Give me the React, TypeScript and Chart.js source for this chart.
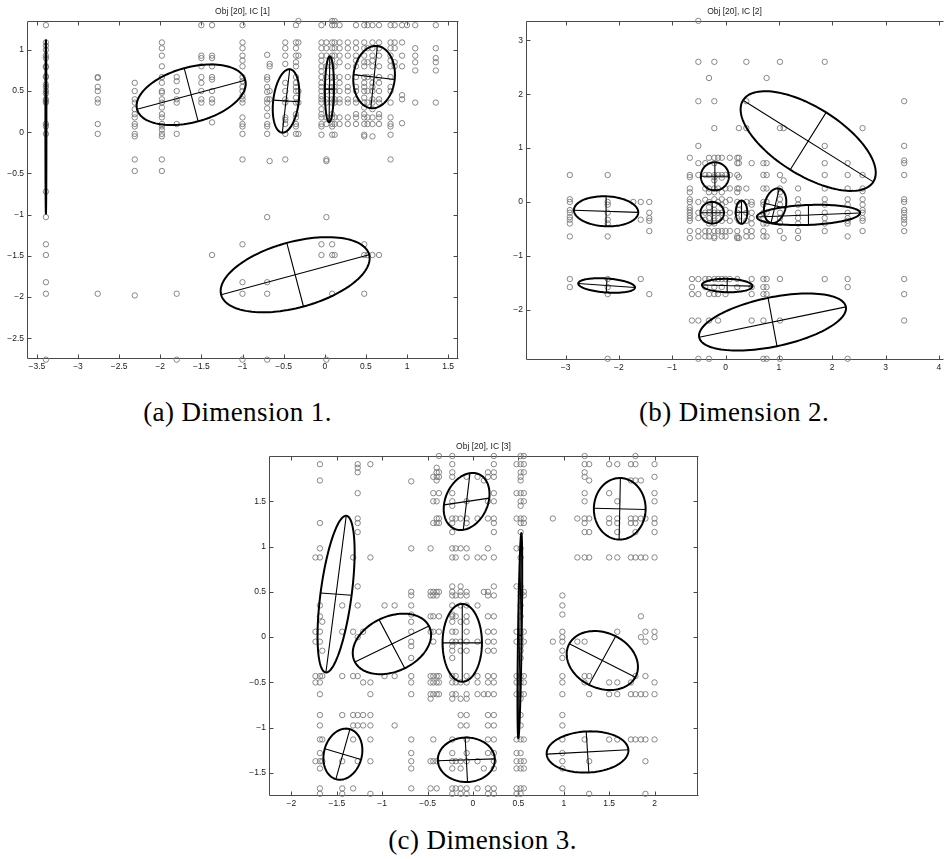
import React, { useEffect, useRef } from "react";
import { Chart, registerables } from "chart.js";

Chart.register(...registerables);

type Column = [number, number[]];
type Ellipse = [number, number, number, number, number, number]; // cx, cy, major(ux,uy), minor(vx,vy)

// ---------------- Dimension 1 ----------------
const dim1Columns: Column[] = [
  [-3.39, [1.3, 1.09, 1.05, 1.0, 0.93, 0.9, 0.8, 0.79, 0.68, 0.67, 0.58, 0.55, 0.5, 0.47, 0.4, 0.38, 0.36, 0.1, 0.07, -0.02, -0.72, -1.03, -1.36, -1.49, -1.82, -1.96, -2.76]],
  [-2.76, [0.67, 0.66, 0.55, 0.5, 0.4, 0.36, 0.1, -0.02, -1.96]],
  [-2.31, [0.6, 0.5, 0.4, 0.36, 0.28, 0.22, 0.18, 0.1, 0.07, -0.02, -0.05, -0.33, -0.47, -1.98]],
  [-1.98, [1.09, 1.02, 0.93, 0.8, 0.67, 0.6, 0.5, 0.48, 0.4, 0.36, 0.3, 0.22, 0.18, 0.1, 0.07, 0.03, -0.02, -0.05, -0.33, -0.47]],
  [-1.8, [0.67, 0.62, 0.5, 0.4, 0.36, 0.1, -0.02, -1.96, -2.76]],
  [-1.5, [1.3, 0.93, 0.9, 0.8, 0.67, 0.6, 0.5, 0.4, 0.36]],
  [-1.37, [1.3, 0.93, 0.9, 0.8, 0.67, 0.64, 0.5, 0.4, 0.36, 0.12, -1.49]],
  [-1.0, [1.3, 1.09, 1.02, 0.93, 0.87, 0.8, 0.67, 0.62, 0.55, 0.5, 0.44, 0.4, 0.36, 0.18, 0.1, 0.07, -0.02, -0.33, -1.36, -1.82, -1.96, -2.76]],
  [-0.7, [0.94, 0.67, 0.64, 0.55, 0.49, 0.4, 0.36, 0.29, 0.2, 0.1, 0.07, -0.02, -1.03, -1.82, -1.96, -2.76]],
  [-0.67, [0.83, 0.8, 0.5, 0.4, -0.35]],
  [-0.48, [1.09, 1.02, 0.93, 0.83, 0.6, 0.5, 0.4, 0.36, 0.18, 0.15, 0.1, -0.02, -0.33]],
  [-0.35, [1.3, 1.09, 1.02, 0.93, 0.85, 0.8, 0.67, 0.6, 0.55, 0.5, 0.42, 0.36, 0.22, 0.18, 0.1, 0.07, -0.02]],
  [-0.32, [1.35, 1.09, 0.93, 0.5, 0.36, -0.02]],
  [-0.04, [1.3, 1.09, 1.02, 0.93, 0.87, 0.8, 0.74, 0.67, 0.6, 0.55, 0.5, 0.44, 0.4, 0.36, 0.28, 0.22, 0.18, 0.1, 0.07, -0.03, -1.36, -1.49]],
  [0.02, [1.09, 1.02, 0.93, 0.8, 0.67, 0.55, 0.5, 0.4, 0.36, 0.18, 0.1, -0.33, -0.35, -1.03, -2.76]],
  [0.09, [1.35, 1.3, 1.09, 1.02, 0.93, 0.87, 0.8, 0.67, 0.6, 0.55, 0.5, 0.4, 0.36, 0.22, 0.18, 0.1, 0.07, -0.03, -1.36, -1.49, -1.96]],
  [0.12, [1.35, 1.3, 1.09, 1.02, 0.93, 0.8, 0.67, 0.55, 0.5, 0.4, 0.36, 0.18, 0.1, -0.03, -1.49]],
  [0.18, [1.3, 1.09, 1.02, 0.93, 0.85, 0.67, 0.6, 0.5, 0.4, 0.36, 0.18, 0.1]],
  [0.28, [1.09, 1.02, 0.93, 0.8, 0.67, 0.55, 0.5, 0.4, 0.36, 0.18, 0.1]],
  [0.38, [1.3, 1.09, 1.02, 0.93, 0.87, 0.8, 0.67, 0.55, 0.5, 0.4, 0.36, 0.22, 0.18, 0.1]],
  [0.48, [1.3, 1.09, 1.02, 0.93, 0.85, 0.8, 0.67, 0.6, 0.55, 0.5, 0.42, 0.36, 0.3, 0.22, 0.18, 0.1, -0.03, -0.05, -1.36, -1.49, -1.96]],
  [0.52, [1.3, 1.02, 0.85, 0.67, 0.5, 0.36, 0.18, 0.1, -1.49]],
  [0.58, [1.3, 1.09, 1.02, 0.93, 0.87, 0.8, 0.67, 0.6, 0.55, 0.5, 0.4, 0.36, 0.28, 0.18, 0.1, -0.05, -1.49]],
  [0.66, [1.3, 1.09, 1.02, 0.93, 0.8, 0.67, 0.6, 0.5, 0.4, 0.36, 0.22, 0.18, 0.1, -1.49]],
  [0.8, [1.3, 1.09, 1.02, 0.93, 0.87, 0.8, 0.67, 0.55, 0.5, 0.36, 0.18, 0.1, 0.07, -0.03, -0.33]],
  [0.85, [1.3, 1.09, 1.02, 0.85, 0.8]],
  [0.94, [1.3, 1.09, 0.93, 0.8, 0.45, 0.4, 0.11]],
  [1.0, [1.3]],
  [1.1, [1.3, 1.02, 0.93, 0.85, 0.75, 0.36]],
  [1.35, [1.3, 1.02, 0.9, 0.85, 0.75, 0.36]],
];
const dim1Ellipses: Ellipse[] = [
  [-3.39, 0.065, 0, 1.053, 0.006, 0],
  [-1.624, 0.455, 0.658, 0.1765, -0.085, 0.3225],
  [-0.471, 0.38, 0.045, 0.385, 0.155, -0.01],
  [0.057, 0.523, 0.004, 0.4, 0.055, 0],
  [0.6, 0.67, 0.04, 0.377, 0.25, -0.03],
  [-0.36, -1.729, 0.9, 0.243, 0.1015, -0.386],
];
const dim1XTicks = [-3.5, -3, -2.5, -2, -1.5, -1, -0.5, 0, 0.5, 1, 1.5];
const dim1YTicks = [-2.5, -2, -1.5, -1, -0.5, 0, 0.5, 1];

// ---------------- Dimension 2 ----------------
const dim2Columns: Column[] = [
  [-2.92, [0.5, 0.05, 0.0, -0.15, -0.2, -0.28, -0.33, -0.4, -0.64, -1.43, -1.58]],
  [-2.21, [0.5, 0.0, -0.05, -0.2, -0.33, -0.4, -0.64, -1.43, -1.58, -1.71, -2.91]],
  [-1.73, [0.0]],
  [-1.59, [0.0, -0.33, -1.43]],
  [-1.43, [0.0, -0.2, -0.3, -0.35, -0.54, -1.71]],
  [-0.67, [0.82, 0.5, 0.46, 0.25, 0.18, 0.05, 0.0, -0.1, -0.15, -0.2, -0.25, -0.3, -0.35, -0.54, -0.67]],
  [-0.63, [-1.43, -1.58, -1.71, -2.2]],
  [-0.51, [3.36, 2.6, 1.87, 1.04, 0.72, 0.5, 0.0, -0.2, -0.3, -0.54, -0.64, -1.43, -1.71, -2.2, -2.91]],
  [-0.38, [0.72, 0.5, 0.25, 0.04, -0.2, -0.33, -0.54, -0.64, -1.43, -1.58]],
  [-0.31, [2.3, 0.82, 0.5, 0.25, 0.18, 0.0, -0.1, -0.2, -0.3, -0.4, -0.54, -0.64, -1.43, -1.71, -2.2, -2.91]],
  [-0.21, [2.6, 1.87, 1.37, 0.82, 0.72, 0.5, 0.46, 0.4, 0.25, 0.18, 0.05, -0.05, -0.15, -0.2, -0.3, -0.35, -0.4, -0.54, -0.64, -0.67, -1.43, -1.58, -1.71]],
  [-0.14, [0.82, 0.5, 0.25, 0.0, -0.2, -0.3, -0.54, -1.43, -1.71, -2.2]],
  [-0.07, [0.82, 0.5, 0.45, 0.18, 0.05, -0.05, -0.2, -0.35, -0.54, -0.64, -1.43, -1.58]],
  [0.0, [0.5, 0.25, 0.0, -0.15, -0.3, -0.54, -0.64, -1.43, -1.71]],
  [0.08, [0.82, 0.5, 0.25, 0.04, -0.2, -0.35, -0.54, -1.43]],
  [0.22, [0.82, 0.72, 0.5, 0.25, 0.18, 0.0, -0.2, -0.3, -0.54, -0.64, -0.67, -1.43, -1.58]],
  [0.25, [1.37, 0.82, 0.72, 0.46, 0.25, -0.05, -0.15, -0.35, -0.67]],
  [0.39, [2.6, 1.87, 1.37, 0.25, 0.0, -0.2, -0.35, -0.54, -0.64]],
  [0.49, [0.72, 0.0, -0.05, -0.2, -0.3, -0.4, -0.54, -0.64, -1.43, -1.58, -1.71, -2.2]],
  [0.71, [0.72, 0.5, 0.25, 0.0, -0.05, -0.2, -0.3, -0.4, -0.54, -0.64, -1.43, -1.58, -1.71, -2.2, -2.91]],
  [0.77, [2.3, 0.72, 0.5, 0.25, 0.0, -0.2, -0.4, -0.64, -1.43, -1.58, -1.71, -2.91]],
  [1.02, [2.6, 1.37, 0.5, 0.25, 0.18, 0.05, -0.05, -0.2, -0.3, -0.39, -0.54, -1.43, -2.2, -2.91]],
  [1.09, [1.37, 0.4, -0.67]],
  [1.36, [0.25, 0.05, -0.05, -0.2, -0.3, -0.4, -0.54, -0.67]],
  [1.86, [2.6, 1.04, 0.72, 0.5, 0.25, 0.05, -0.05, -0.2, -0.3, -0.4, -0.54, -1.43]],
  [2.29, [0.72, 0.5, 0.25, 0.05, -0.05, -0.2, -0.3, -0.35, -0.4, -0.64, -1.43, -1.58, -2.91]],
  [2.57, [1.37, 0.5, 0.25, 0.2, 0.05, -0.05, -0.15, -0.2, -0.3, -0.35, -0.54]],
  [3.35, [1.87, 1.04, 0.77, 0.72, 0.5, 0.05, 0.0, -0.15, -0.2, -0.28, -0.33, -0.4, -0.54, -1.43, -1.71, -2.2]],
];
const dim2Ellipses: Ellipse[] = [
  [-2.24, -0.173, 0.603, -0.02, 0, 0.278],
  [-2.23, -1.55, 0.532, -0.037, 0.006, 0.13],
  [-0.2, 0.476, 0.263, 0, 0, 0.26],
  [-0.25, -0.2, 0.22, 0, 0, 0.2],
  [0.3, -0.19, 0.108, 0, 0, 0.216],
  [0.93, -0.07, 0.077, 0.318, 0.195, -0.047],
  [1.555, -0.241, 0.968, 0.037, 0, 0.185],
  [1.55, 1.13, 1.2215, -0.757, 0.337, 0.5315],
  [0.881, -2.228, 1.376, 0.281, 0.0835, -0.4485],
  [0.031, -1.551, 0.473, -0.01, 0, 0.124],
];
const dim2XTicks = [-3, -2, -1, 0, 1, 2, 3, 4];
const dim2YTicks = [-2, -1, 0, 1, 2, 3];

// ---------------- Dimension 3 ----------------
const dim3Columns: Column[] = [
  [-1.735, [0.88, 0.06, -0.05, -0.43, -0.5, -1.37]],
  [-1.686, [1.91, 1.73, 1.26, 0.98, 0.88, 0.35, 0.23, 0.06, -0.05, -0.43, -0.5, -0.63, -0.86, -0.975, -1.13, -1.28, -1.37, -1.45, -1.67, -1.73]],
  [-1.66, [0.17, -0.15, -0.43, -1.13, -1.37]],
  [-1.44, [0.35, 0.06, -0.43, -0.86, -1.37, -1.67, -1.73]],
  [-1.32, [0.88, 0.06, -0.43, -0.86, -0.975, -1.13, -1.67]],
  [-1.27, [1.91, 1.87, 1.82, 1.59, 1.31, 1.26, 1.16, 0.56, 0.35, 0.0, -0.43, -0.86, -0.975, -1.37]],
  [-1.21, [0.06, -0.5, -0.86, -0.975]],
  [-1.13, [1.91, 0.88, -0.5, -0.63, -0.86, -0.975, -1.13, -1.37, -1.73]],
  [-0.974, [0.35, -0.43]],
  [-0.863, [0.35, -0.43, -0.975]],
  [-0.68, [1.72, 0.98, 0.5, 0.46, 0.35, 0.25, 0.17, 0.06, -0.05, -0.1, -0.23, -0.43, -0.5, -0.63, -1.13, -1.28, -1.37, -1.45, -1.67]],
  [-0.467, [0.98, 0.5, 0.46, 0.23, 0.06, -0.43, -0.5, -0.63, -0.68, -1.37, -1.67]],
  [-0.437, [1.77, 1.59, 1.5, 1.26, 0.5, 0.46, 0.23, 0.06, -0.05, -0.43, -0.5, -0.63, -1.13, -1.37]],
  [-0.4, [1.87, 1.82, 1.77, 1.73, 1.5, 1.31, 1.26, 0.5, 0.46, -0.43, -0.5, -0.63, -1.37, -1.67]],
  [-0.375, [2.0, 1.82, 1.77, 1.59, 1.31, 1.26, 0.5, 0.23, 0.06, -0.43, -0.5, -0.63]],
  [-0.228, [2.0, 1.91, 1.82, 1.77, 1.59, 1.5, 1.45, 1.31, 1.26, 1.16, 0.98, 0.88, 0.56, 0.5, 0.46, 0.35, 0.25, 0.23, 0.17, 0.06, -0.05, -0.1, -0.15, -0.23, -0.43, -0.5, -0.63, -0.68, -1.13, -1.28, -1.37, -1.45, -1.67, -1.73]],
  [-0.19, [1.31, 0.98, 0.88, 0.46, 0.23, 0.06, -0.05, -0.43, -0.5, -0.63, -1.37, -1.67]],
  [-0.136, [1.31, 0.98, 0.56, 0.5, 0.46, 0.35, 0.17, -0.05, -0.15, -0.5, -0.68, -0.86, -0.975, -1.37, -1.45, -1.67, -1.73]],
  [-0.07, [1.77, 1.5, 1.31, 1.26, 0.98, 0.88, 0.5, 0.46, 0.35, 0.23, 0.17, 0.06, -0.05, -0.15, -0.43, -0.5, -0.63, -0.68, -0.86, -0.975, -1.13, -1.28, -1.37, -1.67, -1.73]],
  [0.05, [1.77, 1.31, 0.88, 0.35, -0.05, -0.43, -0.5, -0.63, -1.37, -1.67]],
  [0.12, [1.73, 0.88, 0.5, -0.63, -1.45]],
  [0.165, [1.82, 1.77, 1.5, 1.31, 0.98, 0.5, 0.46, 0.23, 0.06, -0.05, -0.15, -0.43, -0.5, -0.63, -0.86, -0.975, -1.13, -1.28, -1.67, -1.73]],
  [0.23, [2.0, 1.91, 1.82, 1.77, 1.59, 1.5, 1.31, 1.26, 1.16, 0.88, 0.56, 0.46, 0.23, 0.06, -0.05, -0.15, -0.43, -0.5, -0.63, -0.86, -0.975, -1.13, -1.28, -1.37, -1.45, -1.67, -1.73]],
  [0.48, [1.91, 1.59, 1.31, 0.98, 0.56, 0.06, -0.05, -0.43, -0.5, -0.63, -1.13, -1.28, -1.37, -1.45, -1.67, -1.73]],
  [0.525, [2.0, 1.91, 1.82, 1.77, 1.73, 1.59, 1.5, 1.45, 1.31, 1.26, 1.16, 0.98, 0.88, 0.56, 0.5, 0.46, 0.35, 0.23, 0.06, 0.0, -0.05, -0.1, -0.15, -0.23, -0.43, -0.5, -0.63, -0.68, -0.86, -0.975, -1.13, -1.28, -1.37, -1.45, -1.67, -1.73]],
  [0.56, [2.0, 1.91, 1.82, 1.59, 1.5, 1.31, 1.26, 0.5, 0.46, 0.06, -0.05, -0.43, -0.5, -0.63, -1.13, -1.37, -1.45, -1.67]],
  [0.88, [1.31, -0.05]],
  [0.985, [0.46, 0.35, 0.25, 0.06, 0.0, -0.05, -0.15, -0.23, -0.43, -0.5, -0.63, -0.86, -0.975, -1.13, -1.28, -1.37, -1.45, -1.67]],
  [1.15, [1.31, 0.88, -0.05]],
  [1.23, [2.0, 1.91, 1.82, 1.77, 1.59, 1.5, 1.31, 1.26, 1.16, 0.88, -0.05, -0.43, -0.5, -1.13]],
  [1.28, [1.91, 1.73, 1.31, 1.16, 0.88, -0.43, -0.63, -1.37, -1.73]],
  [1.5, [1.91, 1.59, 1.31, 1.26, 0.88, -0.5, -0.63, -1.13]],
  [1.59, [1.91, 1.5, 1.31, 1.26, 1.16, 0.88, 0.06, -0.5, -0.63, -1.13]],
  [1.74, [1.91, 1.73, 1.31, 1.26, 0.88, -0.5, -0.63, -1.13]],
  [1.79, [2.0, 1.91, 1.73, 1.31, 1.26, 1.16, 0.88, -0.43, -0.63, -1.13]],
  [1.85, [1.73, 1.31, 0.88, 0.23, 0.0, -0.63, -1.13]],
  [1.9, [1.31, 0.88, 0.06, -0.05, -0.43, -0.63, -1.13, -1.37, -1.73]],
  [2.0, [1.91, 1.77, 1.59, 1.5, 1.31, 1.26, 1.16, 0.88, 0.06, 0.0, -0.5, -0.63, -1.13]],
];
const dim3Ellipses: Ellipse[] = [
  [-1.508, 0.475, 0.112, 0.865, 0.171, -0.013],
  [-0.893, -0.075, 0.4075, 0.199, 0.1415, -0.2685],
  [-0.07, 1.498, 0.037, 0.313, 0.2495, 0.037],
  [1.617, 1.417, 0.285, -0.007, 0.007, 0.34],
  [-0.118, -0.063, 0, 0.43, 0.217, 0],
  [0.5165, 0.017, 0.0165, 1.132, 0.02, 0],
  [1.425, -0.258, 0.364, -0.184, 0.147, 0.2685],
  [-1.433, -1.292, 0.0775, 0.276, 0.2, -0.059],
  [-0.073, -1.354, 0.314, 0.01, 0.013, -0.245],
  [1.262, -1.268, 0.45, 0.024, 0.0145, -0.2265],
];
const dim3XTicks = [-2, -1.5, -1, -0.5, 0, 0.5, 1, 1.5, 2];
const dim3YTicks = [-1.5, -1, -0.5, 0, 0.5, 1, 1.5];

const SANS = "'Liberation Sans', Arial, sans-serif";

function flatten(cols: Column[]) {
  const out: { x: number; y: number }[] = [];
  for (const [x, ys] of cols) for (const y of ys) out.push({ x, y });
  return out;
}

function fmt(v: number) {
  const s = String(Math.abs(v));
  return v < 0 ? "\u2212" + s : s;
}

function makeFramePlugin(xt: number[], yt: number[], drawRight: boolean) {
  return {
    id: "frame",
    beforeDatasetsDraw(chart: any) {
      const { ctx, chartArea: a, scales } = chart;
      const L = Math.round(a.left) + 0.5;
      const R = Math.round(a.right) - 0.5;
      const T = Math.round(a.top) + 0.5;
      const B = Math.round(a.bottom) + 0.5;
      ctx.save();
      ctx.strokeStyle = "#4a4a4a";
      ctx.lineWidth = 1;
      ctx.beginPath();
      ctx.moveTo(R + 1, T);
      ctx.lineTo(L, T);
      ctx.lineTo(L, B);
      ctx.lineTo(R + 1, B);
      if (drawRight) {
        ctx.moveTo(R, T);
        ctx.lineTo(R, B);
      }
      const tl = 4;
      for (const v of xt) {
        const px = Math.round(scales.x.getPixelForValue(v)) + 0.5;
        ctx.moveTo(px, B);
        ctx.lineTo(px, B - tl);
        ctx.moveTo(px, T);
        ctx.lineTo(px, T + tl);
      }
      for (const v of yt) {
        const py = Math.round(scales.y.getPixelForValue(v)) + 0.5;
        ctx.moveTo(L, py);
        ctx.lineTo(L + tl, py);
        if (drawRight) {
          ctx.moveTo(R, py);
          ctx.lineTo(R - tl, py);
        }
      }
      ctx.stroke();
      ctx.restore();
    },
  };
}

function makeEllipsePlugin(ells: Ellipse[]) {
  return {
    id: "ellipses",
    afterDatasetsDraw(chart: any) {
      const { ctx, scales } = chart;
      const sx = (v: number) => scales.x.getPixelForValue(v);
      const sy = (v: number) => scales.y.getPixelForValue(v);
      ctx.save();
      ctx.strokeStyle = "#000";
      ctx.lineJoin = "round";
      for (const [cx, cy, ux, uy, vx, vy] of ells) {
        ctx.beginPath();
        const n = 120;
        for (let i = 0; i <= n; i++) {
          const t = (i / n) * Math.PI * 2;
          const c = Math.cos(t);
          const s = Math.sin(t);
          const px = sx(cx + ux * c + vx * s);
          const py = sy(cy + uy * c + vy * s);
          if (i === 0) ctx.moveTo(px, py);
          else ctx.lineTo(px, py);
        }
        ctx.closePath();
        ctx.lineWidth = 2;
        ctx.stroke();
        ctx.beginPath();
        ctx.moveTo(sx(cx - ux), sy(cy - uy));
        ctx.lineTo(sx(cx + ux), sy(cy + uy));
        ctx.moveTo(sx(cx - vx), sy(cy - vy));
        ctx.lineTo(sx(cx + vx), sy(cy + vy));
        ctx.lineWidth = 1.1;
        ctx.stroke();
      }
      ctx.restore();
    },
  };
}

type PanelProps = {
  left: number;
  top: number;
  width: number;
  height: number;
  title: string;
  columns: Column[];
  ellipses: Ellipse[];
  xMin: number;
  xMax: number;
  yMin: number;
  yMax: number;
  xTicks: number[];
  yTicks: number[];
  yAxisWidth: number;
  xAxisHeight: number;
  padRight: number;
  drawRight: boolean;
};

function Panel(p: PanelProps) {
  const ref = useRef<HTMLCanvasElement | null>(null);
  useEffect(() => {
    if (!ref.current) return;
    const tickFont = { family: SANS, size: 8.5 };
    const chart = new Chart(ref.current, {
      type: "scatter",
      data: {
        datasets: [
          {
            data: flatten(p.columns),
            pointStyle: "circle",
            pointRadius: 2.7,
            pointBorderWidth: 0.9,
            borderColor: "#7a7a7a",
            backgroundColor: "rgba(0,0,0,0)",
            clip: false as any,
          },
        ],
      },
      options: {
        responsive: false,
        animation: false,
        events: [],
        layout: { padding: { left: 0, right: p.padRight, top: 0, bottom: 0 } },
        plugins: {
          legend: { display: false },
          tooltip: { enabled: false },
          title: {
            display: true,
            text: p.title,
            fullSize: false,
            color: "#222",
            font: { family: SANS, size: 8.5, weight: "normal" },
            padding: { top: 7, bottom: 4 },
          },
        },
        scales: {
          x: {
            type: "linear",
            min: p.xMin,
            max: p.xMax,
            grid: { display: false, drawTicks: false },
            border: { display: false },
            ticks: {
              font: tickFont,
              color: "#1a1a1a",
              padding: 4,
              maxRotation: 0,
              autoSkip: false,
              callback: (v: any) => fmt(Number(v)),
            },
            afterBuildTicks: (s: any) => {
              s.ticks = p.xTicks.map((v) => ({ value: v }));
            },
            afterFit: (s: any) => {
              s.height = p.xAxisHeight;
            },
          },
          y: {
            type: "linear",
            min: p.yMin,
            max: p.yMax,
            grid: { display: false, drawTicks: false },
            border: { display: false },
            ticks: {
              font: tickFont,
              color: "#1a1a1a",
              padding: 3,
              autoSkip: false,
              callback: (v: any) => fmt(Number(v)),
            },
            afterBuildTicks: (s: any) => {
              s.ticks = p.yTicks.map((v) => ({ value: v }));
            },
            afterFit: (s: any) => {
              s.width = p.yAxisWidth;
            },
          },
        },
      } as any,
      plugins: [makeFramePlugin(p.xTicks, p.yTicks, p.drawRight), makeEllipsePlugin(p.ellipses)],
    });
    return () => chart.destroy();
  }, []);
  return (
    <div style={{ position: "absolute", left: p.left, top: p.top, width: p.width, height: p.height }}>
      <canvas ref={ref} width={p.width} height={p.height} style={{ display: "block" }} />
    </div>
  );
}

const captionStyle = (cx: number, top: number): React.CSSProperties => ({
  position: "absolute",
  left: cx - 160,
  top,
  width: 320,
  textAlign: "center",
  fontFamily: "'Liberation Serif', 'Times New Roman', serif",
  fontSize: 27,
  lineHeight: "30px",
  letterSpacing: 0.4,
  color: "#000",
  whiteSpace: "nowrap",
});

export default function App() {
  return (
    <div style={{ position: "absolute", left: 0, top: 0, width: 948, height: 859, background: "#fff", overflow: "hidden" }}>
      <Panel
        left={0}
        top={0}
        width={470}
        height={372}
        title="Obj [20], IC [1]"
        columns={dim1Columns}
        ellipses={dim1Ellipses}
        xMin={-3.62}
        xMax={1.62}
        yMin={-2.74}
        yMax={1.348}
        xTicks={dim1XTicks}
        yTicks={dim1YTicks}
        yAxisWidth={27}
        xAxisHeight={14}
        padRight={12}
        drawRight={true}
      />
      <Panel
        left={478}
        top={0}
        width={470}
        height={372}
        title="Obj [20], IC [2]"
        columns={dim2Columns}
        ellipses={dim2Ellipses}
        xMin={-3.742}
        xMax={4.08}
        yMin={-2.914}
        yMax={3.354}
        xTicks={dim2XTicks}
        yTicks={dim2YTicks}
        yAxisWidth={48}
        xAxisHeight={13}
        padRight={0}
        drawRight={false}
      />
      <Panel
        left={240}
        top={435}
        width={470}
        height={375}
        title="Obj [20], IC [3]"
        columns={dim3Columns}
        ellipses={dim3Ellipses}
        xMin={-2.247}
        xMax={2.479}
        yMin={-1.743}
        yMax={1.998}
        xTicks={dim3XTicks}
        yTicks={dim3YTicks}
        yAxisWidth={29}
        xAxisHeight={15}
        padRight={12}
        drawRight={true}
      />
      <div style={captionStyle(237.5, 397)}>(a) Dimension 1.</div>
      <div style={captionStyle(734, 397)}>(b) Dimension 2.</div>
      <div style={captionStyle(482.5, 825)}>(c) Dimension 3.</div>
    </div>
  );
}
